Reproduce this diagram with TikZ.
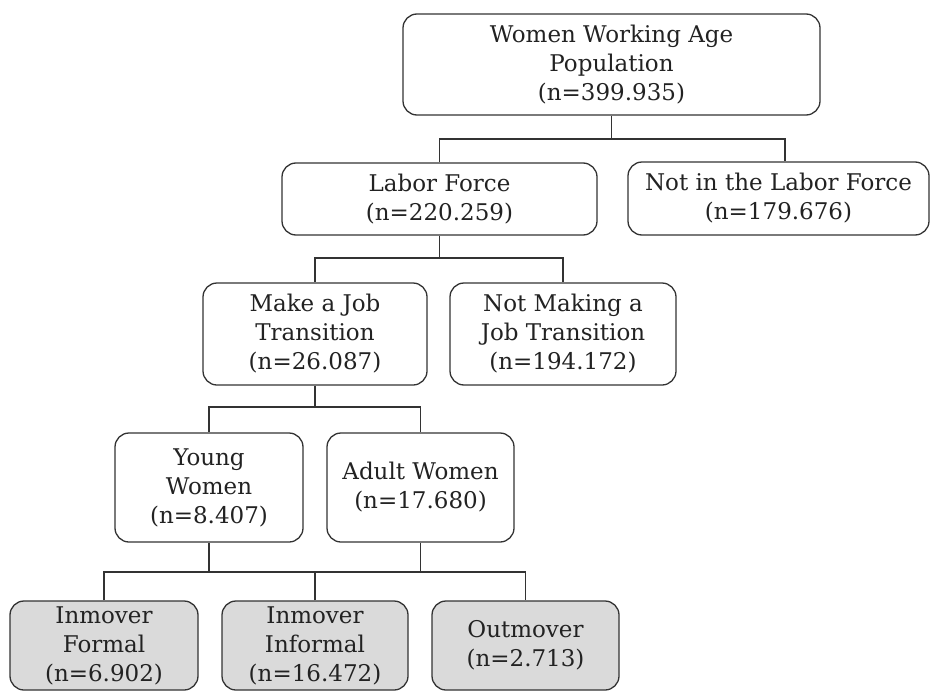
\documentclass[tikz,border=0pt]{standalone}
\usepackage{fontspec}
\setmainfont{DejaVu Serif}
\definecolor{linec}{HTML}{333333}
\definecolor{textc}{HTML}{222222}
\definecolor{leafc}{HTML}{DADADA}
\begin{document}
\begin{tikzpicture}[x=1pt,y=-1pt,
  box/.style={draw=linec, line width=1.3pt, rounded corners=14pt, align=center, inner sep=0pt,
    font=\fontsize{23}{29}\selectfont, text=textc},
  leaf/.style={box, fill=leafc},
  link/.style={draw=linec, line width=1.5pt}]
\useasboundingbox (0,0) rectangle (931,693);
\node[box, minimum width=417pt, minimum height=101pt] (top) at (611.5,64.5) {Women Working Age\\Population\\(n=399.935)};
\node[box, minimum width=315pt, minimum height=72pt] (lf) at (439.5,199) {Labor Force\\(n=220.259)};
\node[box, minimum width=301pt, minimum height=73pt] (nlf) at (778.5,198.5) {Not in the Labor Force\\(n=179.676)};
\node[box, minimum width=224pt, minimum height=102pt] (mjt) at (315,334) {Make a Job\\Transition\\(n=26.087)};
\node[box, minimum width=226pt, minimum height=102pt] (nmjt) at (563,334) {Not Making a\\Job Transition\\(n=194.172)};
\node[box, minimum width=188pt, minimum height=109pt] (yw) at (209,487.5) {Young\\Women\\(n=8.407)};
\node[box, minimum width=187pt, minimum height=109pt] (aw) at (420.5,487.5) {Adult Women\\(n=17.680)};
\node[leaf, minimum width=188pt, minimum height=89pt] (inf) at (104,645.5) {Inmover\\Formal\\(n=6.902)};
\node[leaf, minimum width=186pt, minimum height=89pt] (ini) at (315,645.5) {Inmover\\Informal\\(n=16.472)};
\node[leaf, minimum width=187pt, minimum height=89pt] (out) at (525.5,645.5) {Outmover\\(n=2.713)};
\coordinate (b1) at (0,139);
\coordinate (b2) at (0,258);
\coordinate (b3) at (0,407);
\coordinate (b4) at (0,572);
\draw[link] (top.south) -- (top.south |- b1) -| (lf.north);
\draw[link] (top.south |- b1) -| ([xshift=6.5pt]nlf.north);
\draw[link] (lf.south) -- (lf.south |- b2) -| (mjt.north);
\draw[link] (lf.south |- b2) -| (nmjt.north);
\draw[link] (mjt.south) -- (mjt.south |- b3) -| (yw.north);
\draw[link] (mjt.south |- b3) -| (aw.north);
\draw[link] (yw.south) -- (yw.south |- b4);
\draw[link] (aw.south) -- (aw.south |- b4);
\draw[link] (inf.north) -- (inf.north |- b4) -- (out.north |- b4) -- (out.north);
\draw[link] (ini.north) -- (ini.north |- b4);
\end{tikzpicture}
\end{document}
